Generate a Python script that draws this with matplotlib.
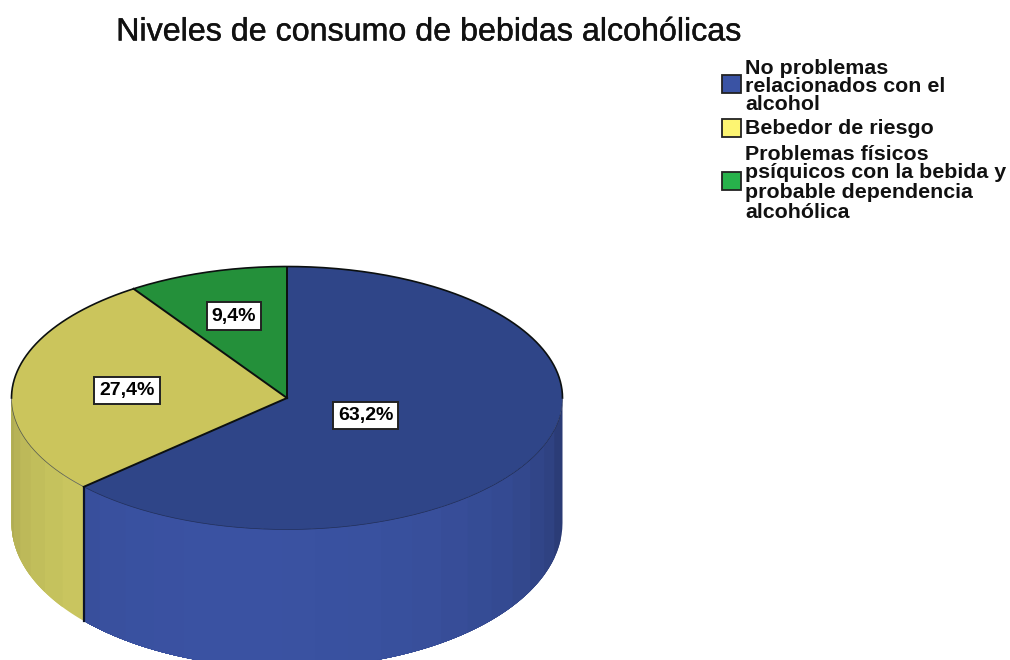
import numpy as np
import matplotlib
matplotlib.use('Agg')
import matplotlib.pyplot as plt
import matplotlib.patheffects as pe
from matplotlib.patches import Rectangle

# chart values
title = 'Niveles de consumo de bebidas alcohólicas'
categories = ['No problemas\nrelacionados con el\nalcohol',
              'Bebedor de riesgo',
              'Problemas físicos\npsíquicos con la bebida y\nprobable dependencia\nalcohólica']
values = [63.2, 27.4, 9.4]
labels = ['63,2%', '27,4%', '9,4%']

top_colors = ['#2f4588', '#cbc55c', '#24903a']
side_colors = ['#3a52a2', '#d2ce63', '#24903a']
legend_colors = ['#3a53a4', '#fdf572', '#27b24b']

# pie geometry in image pixels
cx, cy, rx, ry = 287, 398, 275.5, 131.5
drop, ry_bottom = 125, 145   # bottom rim is a slightly rounder ellipse
W, H = 1010, 660

plt.rcParams['font.family'] = ['Liberation Sans', 'DejaVu Sans']

fig = plt.figure(figsize=(W / 100, H / 100), dpi=100)
ax = fig.add_axes([0, 0, 1, 1])
ax.set_xlim(0, W)
ax.set_ylim(H, 0)
ax.axis('off')

fractions = np.array(values) / sum(values)
edges = 90 - 360 * np.concatenate([[0], np.cumsum(fractions)])


def wall(a, b):
    th = np.radians(np.linspace(a, b, 60))
    x = cx + rx * np.cos(th)
    return x, cy - ry * np.sin(th), cy + drop - ry_bottom * np.sin(th)


# side wall, facets painted over each other so no seams show
facet = 7.0
for i in range(len(values)):
    a = min(edges[i], 0)
    stop = max(edges[i + 1], -180)
    while a > stop:
        mid = np.radians(a - facet / 2)
        shade = 0.72 + 0.28 * max(np.cos(mid - np.radians(-100)), 0) ** 0.6
        col = np.array(matplotlib.colors.to_rgb(side_colors[i])) * shade
        x, y1, y2 = wall(a, stop)
        ax.fill_between(x, y1, y2, facecolor=col, lw=0, zorder=2)
        a -= facet

# dark line where the blue and yellow walls meet
x0, y0, y1 = wall(edges[1], edges[1])
ax.plot([x0[0], x0[0]], [y0[0], y1[0]], color='#0c1428', lw=1.6, zorder=3)

# top face is a plain pie squeezed into the ellipse
pie_ax = fig.add_axes([(cx - rx) / W, 1 - (cy + ry) / H, 2 * rx / W, 2 * ry / H])
pie_ax.pie(values, colors=top_colors, startangle=90, counterclock=False, radius=1,
           wedgeprops={'linewidth': 0})
pie_ax.set_aspect('auto')
pie_ax.set_xlim(-1, 1)
pie_ax.set_ylim(-1, 1)
pie_ax.patch.set_alpha(0)

# overlay for outlines and texts
ax2 = fig.add_axes([0, 0, 1, 1])
ax2.set_xlim(0, W)
ax2.set_ylim(H, 0)
ax2.axis('off')
ax2.patch.set_alpha(0)

# black rim on the back half, faint one on the front, black radii
th = np.radians(np.linspace(0, 180, 200))
ax2.plot(cx + rx * np.cos(th), cy - ry * np.sin(th), color='#0c1010', lw=1.2)
th = np.radians(np.linspace(180, 360, 200))
ax2.plot(cx + rx * np.cos(th), cy - ry * np.sin(th), color='#1a2340', lw=0.5, alpha=0.7)
for e in edges[:-1]:
    t = np.radians(e)
    ax2.plot([cx, cx + rx * np.cos(t)], [cy, cy - ry * np.sin(t)], color='#0c1010', lw=1.4)

# value labels
label_pos = [(365.5, 415.5), (127, 390.5), (234, 316)]
for txt, (lx, ly) in zip(labels, label_pos):
    ax2.text(lx, ly, txt, ha='center', va='center', fontsize=14, fontweight='bold',
             color='#000000',
             bbox=dict(boxstyle='square,pad=0.26', fc='white', ec='#222222', lw=1.4))

ax2.text(429, 32.5, title, ha='center', va='center', fontsize=23.2, color='#111111',
         path_effects=[pe.withStroke(linewidth=0.3, foreground='#111111')])

# legend
swatch_y = [84, 128, 180.5]
text_y = [[68, 86, 105], [129], [154, 173, 192, 212]]
for col, sy in zip(legend_colors, swatch_y):
    ax2.add_patch(Rectangle((722, sy - 9), 19, 18, fc=col, ec='#222222', lw=1.3))
for cat, ys in zip(categories, text_y):
    for line, ty in zip(cat.split('\n'), ys):
        ax2.text(745, ty, line, ha='left', va='center', fontsize=15.4, fontweight='bold',
                 color='#111111')

fig.savefig('out.png', dpi=100)
